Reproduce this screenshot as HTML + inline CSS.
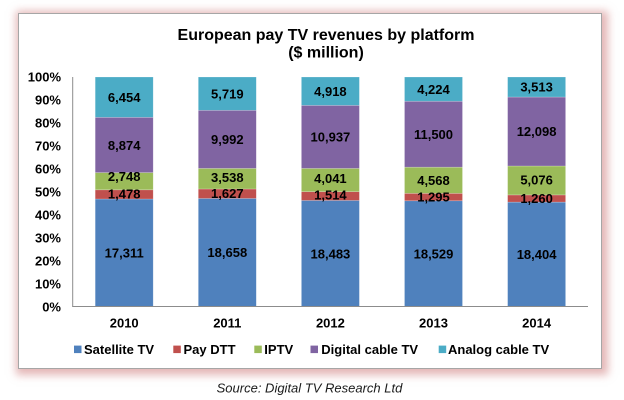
<!DOCTYPE html>
<html><head><meta charset="utf-8"><style>
html,body{margin:0;padding:0;background:#fff;}
body{width:624px;height:400px;position:relative;overflow:hidden;}
.box{position:absolute;left:18px;top:13px;width:582px;height:354px;border:1px solid #a6a6a6;box-shadow:2px 2px 8px 4px rgba(210,135,135,0.6);background:#fff;}
svg{position:absolute;left:0;top:0;}
text{font-family:"Liberation Sans",Arial,sans-serif;}
</style></head><body>
<div class="box"></div>
<svg width="624" height="400" viewBox="0 0 624 400">
<g font-weight="bold" font-size="16" text-anchor="middle" fill="#000">
<text x="326" y="40">European pay TV revenues by platform</text>
<text x="326" y="57.5">($ million)</text>
</g>
<g font-weight="bold" font-size="13" text-anchor="end" fill="#000">
<text x="61" y="81.6">100%</text>
<text x="61" y="104.6">90%</text>
<text x="61" y="127.6">80%</text>
<text x="61" y="150.6">70%</text>
<text x="61" y="173.6">60%</text>
<text x="61" y="196.6">50%</text>
<text x="61" y="219.6">40%</text>
<text x="61" y="242.6">30%</text>
<text x="61" y="265.6">20%</text>
<text x="61" y="288.6">10%</text>
<text x="61" y="311.6">0%</text>
</g>
<g stroke="rgba(255,255,255,0.35)" stroke-width="0.6">
<!-- 2010 -->
<rect x="95.2" y="199.0" width="58" height="108" fill="#4F81BD"/>
<rect x="95.2" y="189.8" width="58" height="9.2" fill="#C0504D"/>
<rect x="95.2" y="172.6" width="58" height="17.2" fill="#9BBB59"/>
<rect x="95.2" y="117.3" width="58" height="55.3" fill="#8064A2"/>
<rect x="95.2" y="77" width="58" height="40.3" fill="#4BACC6"/>
<!-- 2011 -->
<rect x="198.3" y="198.45" width="58" height="108.55" fill="#4F81BD"/>
<rect x="198.3" y="188.98" width="58" height="9.47" fill="#C0504D"/>
<rect x="198.3" y="168.4" width="58" height="20.58" fill="#9BBB59"/>
<rect x="198.3" y="110.27" width="58" height="58.13" fill="#8064A2"/>
<rect x="198.3" y="77" width="58" height="33.27" fill="#4BACC6"/>
<!-- 2012 -->
<rect x="301.4" y="200.44" width="58" height="106.56" fill="#4F81BD"/>
<rect x="301.4" y="191.71" width="58" height="8.73" fill="#C0504D"/>
<rect x="301.4" y="168.41" width="58" height="23.3" fill="#9BBB59"/>
<rect x="301.4" y="105.35" width="58" height="63.06" fill="#8064A2"/>
<rect x="301.4" y="77" width="58" height="28.35" fill="#4BACC6"/>
<!-- 2013 -->
<rect x="404.5" y="200.77" width="58" height="106.23" fill="#4F81BD"/>
<rect x="404.5" y="193.35" width="58" height="7.42" fill="#C0504D"/>
<rect x="404.5" y="167.16" width="58" height="26.19" fill="#9BBB59"/>
<rect x="404.5" y="101.23" width="58" height="65.93" fill="#8064A2"/>
<rect x="404.5" y="77" width="58" height="24.23" fill="#4BACC6"/>
<!-- 2014 -->
<rect x="507.6" y="202.1" width="58" height="104.9" fill="#4F81BD"/>
<rect x="507.6" y="194.92" width="58" height="7.18" fill="#C0504D"/>
<rect x="507.6" y="165.99" width="58" height="28.93" fill="#9BBB59"/>
<rect x="507.6" y="97.03" width="58" height="68.96" fill="#8064A2"/>
<rect x="507.6" y="77" width="58" height="20.03" fill="#4BACC6"/>
</g>
<line x1="72.7" y1="77" x2="72.7" y2="306.5" stroke="#8c8c8c" stroke-width="1"/>
<line x1="72.2" y1="306.5" x2="588" y2="306.5" stroke="#8c8c8c" stroke-width="1"/>
<g font-weight="bold" font-size="13" text-anchor="middle" fill="#000">
<!-- 2010 -->
<text x="124.2" y="257.7">17,311</text>
<text x="124.2" y="198.7">1,478</text>
<text x="124.2" y="181.2">2,748</text>
<text x="124.2" y="149.9">8,874</text>
<text x="124.2" y="101.8">6,454</text>
<!-- 2011 -->
<text x="227.3" y="257.1">18,658</text>
<text x="227.3" y="198.0">1,627</text>
<text x="227.3" y="182.2">3,538</text>
<text x="227.3" y="144.0">9,992</text>
<text x="227.3" y="98.3">5,719</text>
<!-- 2012 -->
<text x="330.4" y="258.4">18,483</text>
<text x="330.4" y="199.7">1,514</text>
<text x="330.4" y="183.0">4,041</text>
<text x="330.4" y="141.6">10,937</text>
<text x="330.4" y="95.8">4,918</text>
<!-- 2013 -->
<text x="433.5" y="258.6">18,529</text>
<text x="433.5" y="201.4">1,295</text>
<text x="433.5" y="184.9">4,568</text>
<text x="433.5" y="138.9">11,500</text>
<text x="433.5" y="93.8">4,224</text>
<!-- 2014 -->
<text x="536.6" y="259.2">18,404</text>
<text x="536.6" y="202.8">1,260</text>
<text x="536.6" y="184.7">5,076</text>
<text x="536.6" y="136.2">12,098</text>
<text x="536.6" y="91.7">3,513</text>
</g>
<g font-weight="bold" font-size="13" text-anchor="middle" fill="#000">
<text x="124.2" y="327.3">2010</text>
<text x="227.3" y="327.3">2011</text>
<text x="330.4" y="327.3">2012</text>
<text x="433.5" y="327.3">2013</text>
<text x="536.6" y="327.3">2014</text>
</g>
<rect x="74" y="345.6" width="7.5" height="7.5" fill="#4F81BD"/>
<rect x="173.3" y="345.6" width="7.5" height="7.5" fill="#C0504D"/>
<rect x="254.3" y="345.6" width="7.5" height="7.5" fill="#9BBB59"/>
<rect x="310.5" y="345.6" width="7.5" height="7.5" fill="#8064A2"/>
<rect x="438.7" y="345.6" width="7.5" height="7.5" fill="#4BACC6"/>
<g font-weight="bold" font-size="13" fill="#000">
<text x="84" y="353.8">Satellite TV</text>
<text x="183.5" y="353.8">Pay DTT</text>
<text x="264.3" y="353.8">IPTV</text>
<text x="321.3" y="353.8">Digital cable TV</text>
<text x="448" y="353.8">Analog cable TV</text>
</g>
<text x="309.5" y="392.6" font-size="13" font-style="italic" text-anchor="middle" fill="#1a1a1a">Source: Digital TV Research Ltd</text>
</svg>
</body></html>
